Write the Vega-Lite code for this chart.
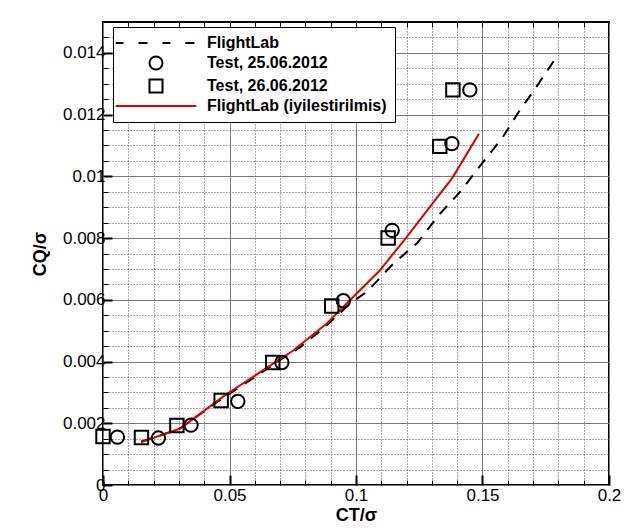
{
  "$schema": "https://vega.github.io/schema/vega-lite/v6.json",
  "width": 506,
  "height": 463,
  "autosize": {"type": "none"},
  "padding": {"left": 103, "top": 22, "right": 20, "bottom": 47},
  "background": "white",
  "config": {"view": {"stroke": "black", "strokeWidth": 2}, "font": "Liberation Sans"},
  "data": {"values": [
    {"series": "FlightLab", "ct": 0.015, "cq": 0.0014},
    {"series": "FlightLab", "ct": 0.030, "cq": 0.00181},
    {"series": "FlightLab", "ct": 0.045, "cq": 0.00268},
    {"series": "FlightLab", "ct": 0.060, "cq": 0.0035},
    {"series": "FlightLab", "ct": 0.070, "cq": 0.00405},
    {"series": "FlightLab", "ct": 0.0778, "cq": 0.00446},
    {"series": "FlightLab", "ct": 0.0876, "cq": 0.00511},
    {"series": "FlightLab", "ct": 0.0974, "cq": 0.00586},
    {"series": "FlightLab", "ct": 0.1047, "cq": 0.00629},
    {"series": "FlightLab", "ct": 0.1145, "cq": 0.00715},
    {"series": "FlightLab", "ct": 0.1243, "cq": 0.00785},
    {"series": "FlightLab", "ct": 0.1329, "cq": 0.00876},
    {"series": "FlightLab", "ct": 0.1414, "cq": 0.00952},
    {"series": "FlightLab", "ct": 0.1499, "cq": 0.01043},
    {"series": "FlightLab", "ct": 0.1578, "cq": 0.01124},
    {"series": "FlightLab", "ct": 0.1644, "cq": 0.0121},
    {"series": "FlightLab", "ct": 0.1709, "cq": 0.01285},
    {"series": "FlightLab", "ct": 0.1795, "cq": 0.0139},
    {"series": "FlightLab (iyilestirilmis)", "ct": 0.0152, "cq": 0.00139},
    {"series": "FlightLab (iyilestirilmis)", "ct": 0.0305, "cq": 0.00183},
    {"series": "FlightLab (iyilestirilmis)", "ct": 0.0476, "cq": 0.00287},
    {"series": "FlightLab (iyilestirilmis)", "ct": 0.069, "cq": 0.00403},
    {"series": "FlightLab (iyilestirilmis)", "ct": 0.0751, "cq": 0.00435},
    {"series": "FlightLab (iyilestirilmis)", "ct": 0.0883, "cq": 0.00522},
    {"series": "FlightLab (iyilestirilmis)", "ct": 0.0974, "cq": 0.00597},
    {"series": "FlightLab (iyilestirilmis)", "ct": 0.1093, "cq": 0.00694},
    {"series": "FlightLab (iyilestirilmis)", "ct": 0.1198, "cq": 0.00801},
    {"series": "FlightLab (iyilestirilmis)", "ct": 0.1289, "cq": 0.00898},
    {"series": "FlightLab (iyilestirilmis)", "ct": 0.1381, "cq": 0.00995},
    {"series": "FlightLab (iyilestirilmis)", "ct": 0.1486, "cq": 0.01138},
    {"series": "Test, 25.06.2012", "ct": 0.0057, "cq": 0.00155},
    {"series": "Test, 25.06.2012", "ct": 0.0219, "cq": 0.00152},
    {"series": "Test, 25.06.2012", "ct": 0.0348, "cq": 0.00194},
    {"series": "Test, 25.06.2012", "ct": 0.0533, "cq": 0.00271},
    {"series": "Test, 25.06.2012", "ct": 0.0707, "cq": 0.00397},
    {"series": "Test, 25.06.2012", "ct": 0.095, "cq": 0.00597},
    {"series": "Test, 25.06.2012", "ct": 0.1143, "cq": 0.00825},
    {"series": "Test, 25.06.2012", "ct": 0.1379, "cq": 0.01106},
    {"series": "Test, 25.06.2012", "ct": 0.145, "cq": 0.0128},
    {"series": "Test, 26.06.2012", "ct": 0.0, "cq": 0.00157},
    {"series": "Test, 26.06.2012", "ct": 0.0152, "cq": 0.00154},
    {"series": "Test, 26.06.2012", "ct": 0.0292, "cq": 0.00193},
    {"series": "Test, 26.06.2012", "ct": 0.0467, "cq": 0.00274},
    {"series": "Test, 26.06.2012", "ct": 0.0671, "cq": 0.00397},
    {"series": "Test, 26.06.2012", "ct": 0.0904, "cq": 0.0058},
    {"series": "Test, 26.06.2012", "ct": 0.1127, "cq": 0.0080},
    {"series": "Test, 26.06.2012", "ct": 0.1331, "cq": 0.01097},
    {"series": "Test, 26.06.2012", "ct": 0.1383, "cq": 0.0128}
  ]},
  "encoding": {
    "color": {
      "field": "series", "type": "nominal",
      "scale": {"domain": ["FlightLab", "Test, 25.06.2012", "Test, 26.06.2012", "FlightLab (iyilestirilmis)"], "range": ["black", "black", "black", "#e00000"]},
      "legend": {
        "title": null, "orient": "none", "legendX": 10, "legendY": 5,
        "fillColor": "white", "strokeColor": "black", "cornerRadius": 0, "padding": 8,
        "labelFont": "Liberation Sans", "labelFontSize": 16, "labelFontWeight": "bold", "labelColor": "black", "labelLimit": 400,
        "symbolSize": 169, "symbolStrokeWidth": 2, "symbolOffset": 27, "labelOffset": 43, "rowPadding": 1
      }
    }
  },
  "layer": [
    {
      "transform": [{"filter": "datum.series == 'FlightLab'"}],
      "mark": {"type": "line", "strokeWidth": 2, "strokeDash": [11, 9]},
      "encoding": {
        "x": {
          "field": "ct", "type": "quantitative",
          "scale": {"domain": [0, 0.2], "nice": false, "zero": false},
          "axis": {
            "orient": "bottom",
            "values": [0.01,0.02,0.03,0.04,0.06,0.07,0.08,0.09,0.11,0.12,0.13,0.14,0.16,0.17,0.18,0.19],
            "labels": false, "domain": false, "title": null,
            "grid": true, "gridColor": "#555555", "gridDash": {"expr": "[1, 2]"}, "gridWidth": 1,
            "ticks": true, "tickColor": "black", "tickSize": -5, "tickWidth": 1
          }
        },
        "y": {
          "field": "cq", "type": "quantitative",
          "scale": {"domain": [0, 0.015], "nice": false, "zero": false},
          "axis": {
            "orient": "left",
            "values": [0.0005,0.001,0.0015,0.0025,0.003,0.0035,0.0045,0.005,0.0055,0.0065,0.007,0.0075,0.0085,0.009,0.0095,0.0105,0.011,0.0115,0.0125,0.013,0.0135,0.0145],
            "labels": false, "domain": false, "title": null,
            "grid": true, "gridColor": "#555555", "gridDash": {"expr": "[1, 2]"}, "gridWidth": 1,
            "ticks": true, "tickColor": "black", "tickSize": -5, "tickWidth": 1
          }
        }
      }
    },
    {
      "transform": [{"filter": "datum.series == 'FlightLab (iyilestirilmis)'"}],
      "mark": {"type": "line", "strokeWidth": 2},
      "encoding": {
        "x": {
          "field": "ct", "type": "quantitative",
          "scale": {"domain": [0, 0.2], "nice": false, "zero": false},
          "axis": {
            "orient": "top",
            "values": [0.01,0.02,0.03,0.04,0.05,0.06,0.07,0.08,0.09,0.1,0.11,0.12,0.13,0.14,0.15,0.16,0.17,0.18,0.19],
            "labels": false, "domain": false, "grid": false, "title": null,
            "tickColor": "black", "tickSize": -5, "tickWidth": 1
          }
        },
        "y": {
          "field": "cq", "type": "quantitative",
          "scale": {"domain": [0, 0.015], "nice": false, "zero": false},
          "axis": {
            "orient": "left",
            "values": [0, 0.002, 0.004, 0.006, 0.008, 0.01, 0.012, 0.014],
            "format": "~g",
            "labelFont": "Liberation Sans", "labelFontSize": 17, "labelColor": "black",
            "labelPadding": 7, "labelFlush": false, "labelOverlap": false,
            "domain": false,
            "grid": true, "gridColor": "#7a7a7a", "gridWidth": 1,
            "tickColor": "black", "tickSize": -9, "tickWidth": 2,
            "title": "CQ/σ", "titleFont": "Liberation Sans", "titleFontSize": 18, "titleFontWeight": "bold", "titleColor": "black", "titlePadding": 13
          }
        }
      }
    },
    {
      "transform": [{"filter": "indexof(datum.series, 'Test') == 0"}],
      "mark": {"type": "point", "filled": false, "size": 180, "strokeWidth": 2, "opacity": 1},
      "encoding": {
        "x": {
          "field": "ct", "type": "quantitative",
          "scale": {"domain": [0, 0.2], "nice": false, "zero": false},
          "axis": {
            "orient": "bottom",
            "values": [0, 0.05, 0.1, 0.15, 0.2],
            "format": "~g",
            "labelFont": "Liberation Sans", "labelFontSize": 17, "labelColor": "black",
            "labelPadding": 12, "labelFlush": false, "labelOverlap": false,
            "domain": false,
            "grid": true, "gridColor": "#7a7a7a", "gridWidth": 1,
            "tickColor": "black", "tickSize": -10, "tickWidth": 2,
            "title": "CT/σ", "titleFont": "Liberation Sans", "titleFontSize": 18, "titleFontWeight": "bold", "titleColor": "black", "titlePadding": 3
          }
        },
        "y": {
          "field": "cq", "type": "quantitative",
          "scale": {"domain": [0, 0.015], "nice": false, "zero": false},
          "axis": null
        },
        "shape": {
          "field": "series", "type": "nominal",
          "scale": {
            "domain": ["FlightLab", "Test, 25.06.2012", "Test, 26.06.2012", "FlightLab (iyilestirilmis)"],
            "range": ["M-6.2,0H-5M-2.7,0H-1.3M1,0H2.2M4.5,0H5.9", "circle", "square", "M-6.2,0H6.2"]
          },
          "legend": {
            "title": null, "orient": "none", "legendX": 10, "legendY": 5,
            "fillColor": "white", "strokeColor": "black", "cornerRadius": 0, "padding": 8,
            "labelFont": "Liberation Sans", "labelFontSize": 16, "labelFontWeight": "bold", "labelColor": "black", "labelLimit": 400,
            "symbolSize": 169, "symbolStrokeWidth": 2, "symbolOffset": 27, "labelOffset": 43, "rowPadding": 1
          }
        }
      }
    }
  ],
  "resolve": {"axis": {"x": "independent", "y": "independent"}}
}
